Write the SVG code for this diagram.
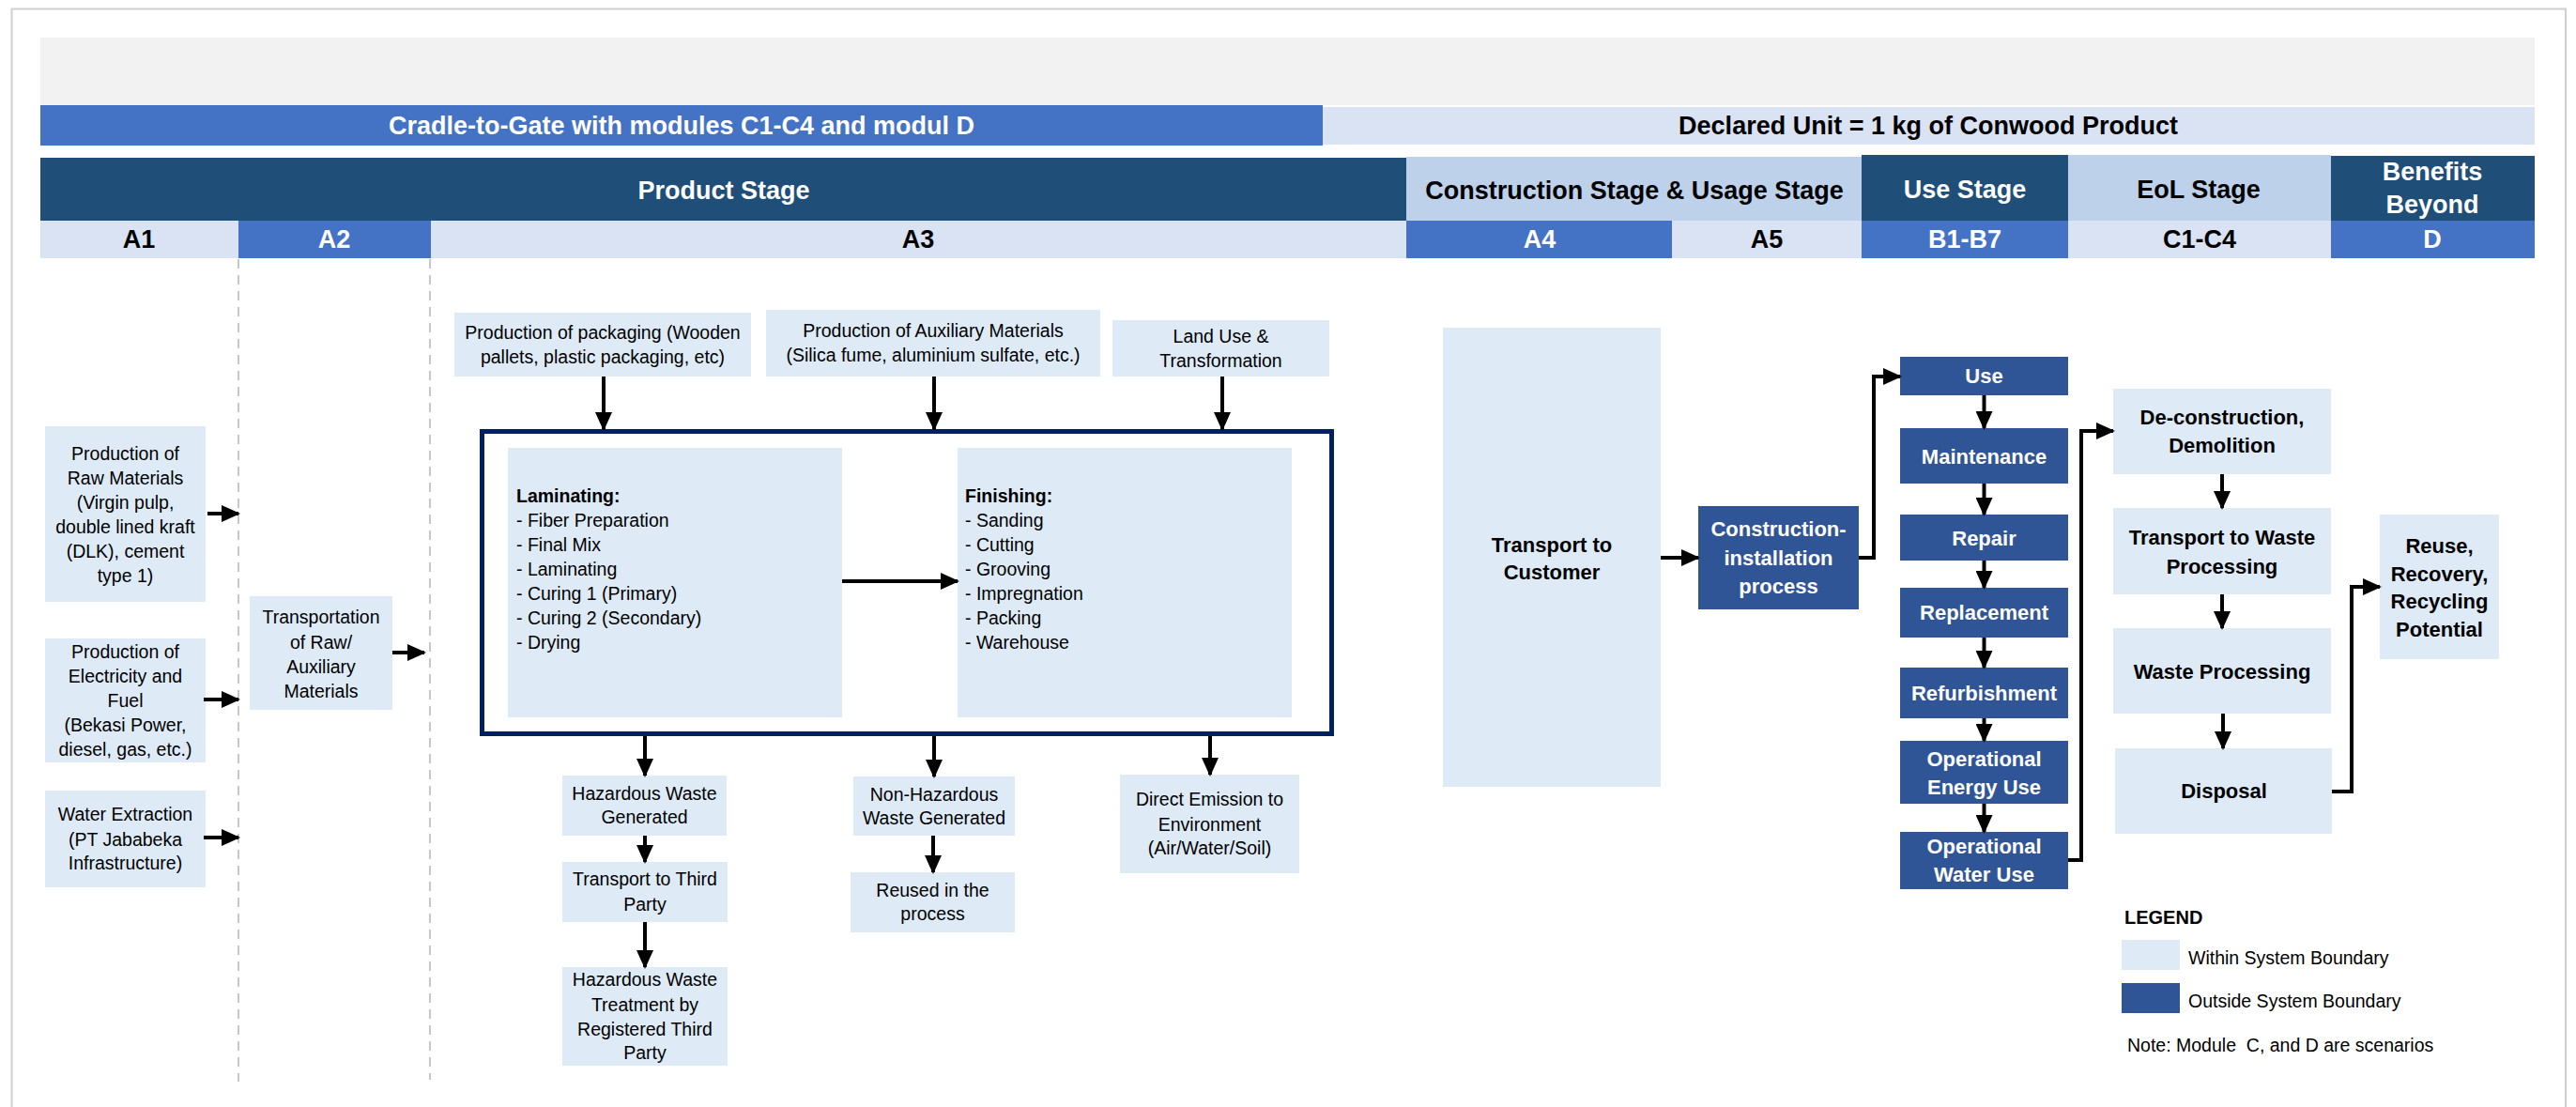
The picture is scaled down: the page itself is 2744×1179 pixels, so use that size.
<svg xmlns="http://www.w3.org/2000/svg" width="2744" height="1179" viewBox="0 0 2744 1179">
<style>
text{font-family:"Liberation Sans",Arial,sans-serif;}
.h{font-size:27px;font-weight:bold;text-anchor:middle;}
.w{fill:#FFFFFF;}
.k{fill:#000000;}
.t{font-size:19.5px;text-anchor:middle;fill:#000;}
.tl{font-size:19.5px;fill:#000;}
.b{font-size:22px;font-weight:bold;text-anchor:middle;}
.lt{fill:#DEEBF7;}
.dk{fill:#2F5597;}
.c{fill:none;stroke:#000;stroke-width:4;marker-end:url(#ah);}
.dash{stroke:#C8C8C8;stroke-width:2;stroke-dasharray:10 7;fill:none;}
</style>
<defs>
<marker id="ah" markerWidth="20" markerHeight="18" refX="18" refY="9" orient="auto" markerUnits="userSpaceOnUse">
<path d="M0,0 L20,9 L0,18 Z" fill="#000"/>
</marker>
</defs>
<rect x="0" y="0" width="2744" height="1179" fill="#FFFFFF"/>
<path d="M12.5,1185 V9.5 H2733 V1185" fill="none" stroke="#D0D0D0" stroke-width="2"/>

<g id="header">
<rect x="43" y="40" width="2657" height="72" fill="#F2F2F2"/>
<rect x="43" y="112" width="1366" height="43" fill="#4472C4"/>
<text class="h w" x="726" y="143" font-size="28">Cradle-to-Gate with modules C1-C4 and modul D</text>
<rect x="1409" y="114" width="1291" height="40" fill="#DAE3F3"/>
<text class="h k" x="2054" y="143">Declared Unit = 1 kg of Conwood Product</text>
<rect x="43" y="168" width="1455" height="67" fill="#1F4E79"/>
<text class="h w" x="771" y="212">Product Stage</text>
<rect x="1498" y="167" width="485" height="68" fill="#BDD1EA"/>
<text class="h k" x="1741" y="212">Construction Stage &amp; Usage Stage</text>
<rect x="1983" y="165" width="220" height="70" fill="#1F4E79"/>
<text class="h w" x="2093" y="211">Use Stage</text>
<rect x="2203" y="165" width="280" height="70" fill="#BDD1EA"/>
<text class="h k" x="2342" y="211">EoL Stage</text>
<rect x="2483" y="166" width="217" height="69" fill="#1F4E79"/>
<text class="h w" x="2591" y="192">Benefits</text>
<text class="h w" x="2591" y="227">Beyond</text>
<rect x="43" y="235" width="211" height="40" fill="#DAE3F3"/>
<text class="h k" x="148" y="264">A1</text>
<rect x="254" y="235" width="205" height="40" fill="#4472C4"/>
<text class="h w" x="356" y="264">A2</text>
<rect x="459" y="235" width="1039" height="40" fill="#DAE3F3"/>
<text class="h k" x="978" y="264">A3</text>
<rect x="1498" y="235" width="283" height="40" fill="#4472C4"/>
<text class="h w" x="1640" y="264">A4</text>
<rect x="1781" y="235" width="202" height="40" fill="#DAE3F3"/>
<text class="h k" x="1882" y="264">A5</text>
<rect x="1983" y="235" width="220" height="40" fill="#4472C4"/>
<text class="h w" x="2093" y="264">B1-B7</text>
<rect x="2203" y="235" width="280" height="40" fill="#DAE3F3"/>
<text class="h k" x="2343" y="264">C1-C4</text>
<rect x="2483" y="235" width="217" height="40" fill="#4472C4"/>
<text class="h w" x="2591" y="264">D</text>
</g>

<g id="boundaries">
<line class="dash" x1="254" y1="276" x2="254" y2="1152"/>
<line class="dash" x1="458" y1="276" x2="458" y2="1150"/>
</g>

<g id="n_raw"><rect class="lt" x="48" y="454" width="171" height="187"/>
<text class="t" x="133.5" y="490">Production of</text><text class="t" x="133.5" y="516">Raw Materials</text><text class="t" x="133.5" y="542">(Virgin pulp,</text><text class="t" x="133.5" y="568">double lined kraft</text><text class="t" x="133.5" y="594">(DLK), cement</text><text class="t" x="133.5" y="620">type 1)</text></g>
<g id="n_elec"><rect class="lt" x="48" y="680" width="171" height="132"/>
<text class="t" x="133.5" y="701">Production of</text><text class="t" x="133.5" y="727">Electricity and</text><text class="t" x="133.5" y="753">Fuel</text><text class="t" x="133.5" y="779">(Bekasi Power,</text><text class="t" x="133.5" y="805">diesel, gas, etc.)</text></g>
<g id="n_water"><rect class="lt" x="48" y="842" width="171" height="103"/>
<text class="t" x="133.5" y="874">Water Extraction</text><text class="t" x="133.5" y="901">(PT Jababeka</text><text class="t" x="133.5" y="926">Infrastructure)</text></g>
<g id="n_transport"><rect class="lt" x="266" y="635" width="152" height="121"/>
<text class="t" x="342" y="664">Transportation</text><text class="t" x="342" y="691">of Raw/</text><text class="t" x="342" y="717">Auxiliary</text><text class="t" x="342" y="743">Materials</text></g>

<g id="n_pack"><rect class="lt" x="484" y="333" width="316" height="68"/>
<text class="t" x="642" y="361">Production of packaging (Wooden</text><text class="t" x="642" y="387">pallets, plastic packaging, etc)</text></g>
<g id="n_aux"><rect class="lt" x="816" y="330" width="356" height="71"/>
<text class="t" x="994" y="359">Production of Auxiliary Materials</text><text class="t" x="994" y="385">(Silica fume, aluminium sulfate, etc.)</text></g>
<g id="n_land"><rect class="lt" x="1185" y="341" width="231" height="60"/>
<text class="t" x="1300.5" y="365">Land Use &amp;</text><text class="t" x="1300.5" y="391">Transformation</text></g>

<g id="n_process"><rect x="513.5" y="459.5" width="905" height="322" fill="#FFFFFF" stroke="#002060" stroke-width="5"/></g>
<g id="n_lam"><rect class="lt" x="541" y="477" width="356" height="287"/>
<text class="tl" x="550" y="535" font-weight="bold">Laminating:</text>
<text class="tl" x="550" y="561">- Fiber Preparation</text><text class="tl" x="550" y="587">- Final Mix</text><text class="tl" x="550" y="613">- Laminating</text><text class="tl" x="550" y="639">- Curing 1 (Primary)</text><text class="tl" x="550" y="665">- Curing 2 (Secondary)</text><text class="tl" x="550" y="691">- Drying</text></g>
<g id="n_fin"><rect class="lt" x="1020" y="477" width="356" height="287"/>
<text class="tl" x="1028" y="535" font-weight="bold">Finishing:</text>
<text class="tl" x="1028" y="561">- Sanding</text><text class="tl" x="1028" y="587">- Cutting</text><text class="tl" x="1028" y="613">- Grooving</text><text class="tl" x="1028" y="639">- Impregnation</text><text class="tl" x="1028" y="665">- Packing</text><text class="tl" x="1028" y="691">- Warehouse</text></g>

<g id="n_hw"><rect class="lt" x="599" y="826" width="175" height="64"/>
<text class="t" x="686.5" y="852">Hazardous Waste</text><text class="t" x="686.5" y="877">Generated</text></g>
<g id="n_tp"><rect class="lt" x="599" y="918" width="176" height="64"/>
<text class="t" x="687" y="943">Transport to Third</text><text class="t" x="687" y="970">Party</text></g>
<g id="n_hwt"><rect class="lt" x="599" y="1030" width="176" height="105"/>
<text class="t" x="687" y="1050">Hazardous Waste</text><text class="t" x="687" y="1077">Treatment by</text><text class="t" x="687" y="1103">Registered Third</text><text class="t" x="687" y="1128">Party</text></g>
<g id="n_nh"><rect class="lt" x="909" y="827" width="172" height="63"/>
<text class="t" x="995" y="853">Non-Hazardous</text><text class="t" x="995" y="878">Waste Generated</text></g>
<g id="n_reused"><rect class="lt" x="906" y="929" width="175" height="64"/>
<text class="t" x="993.5" y="955">Reused in the</text><text class="t" x="993.5" y="980">process</text></g>
<g id="n_de"><rect class="lt" x="1193" y="825" width="191" height="105"/>
<text class="t" x="1288.5" y="858">Direct Emission to</text><text class="t" x="1288.5" y="885">Environment</text><text class="t" x="1288.5" y="910">(Air/Water/Soil)</text></g>

<g id="n_ttc"><rect class="lt" x="1537" y="349" width="232" height="489"/>
<text class="b k" x="1653" y="588">Transport to</text><text class="b k" x="1653" y="617">Customer</text></g>
<g id="n_ci"><rect class="dk" x="1809" y="539" width="171" height="110"/>
<text class="b w" x="1894.5" y="571">Construction-</text><text class="b w" x="1894.5" y="602">installation</text><text class="b w" x="1894.5" y="632">process</text></g>

<g id="n_use"><rect class="dk" x="2024" y="380" width="179" height="41"/><text class="b w" x="2113.5" y="408">Use</text></g>
<g id="n_maint"><rect class="dk" x="2024" y="456" width="179" height="59"/><text class="b w" x="2113.5" y="494">Maintenance</text></g>
<g id="n_repair"><rect class="dk" x="2024" y="548" width="179" height="49"/><text class="b w" x="2113.5" y="581">Repair</text></g>
<g id="n_repl"><rect class="dk" x="2024" y="626" width="179" height="53"/><text class="b w" x="2113.5" y="660">Replacement</text></g>
<g id="n_refurb"><rect class="dk" x="2024" y="711" width="179" height="54"/><text class="b w" x="2113.5" y="746">Refurbishment</text></g>
<g id="n_ope"><rect class="dk" x="2024" y="789" width="179" height="67"/><text class="b w" x="2113.5" y="816">Operational</text><text class="b w" x="2113.5" y="846">Energy Use</text></g>
<g id="n_opw"><rect class="dk" x="2024" y="886" width="179" height="61"/><text class="b w" x="2113.5" y="909">Operational</text><text class="b w" x="2113.5" y="939">Water Use</text></g>

<g id="n_decon"><rect class="lt" x="2251" y="414" width="232" height="91"/><text class="b k" x="2367" y="452">De-construction,</text><text class="b k" x="2367" y="482">Demolition</text></g>
<g id="n_twp"><rect class="lt" x="2251" y="541" width="232" height="92"/><text class="b k" x="2367" y="580">Transport to Waste</text><text class="b k" x="2367" y="611">Processing</text></g>
<g id="n_wp"><rect class="lt" x="2251" y="669" width="232" height="91"/><text class="b k" x="2367" y="723">Waste Processing</text></g>
<g id="n_disp"><rect class="lt" x="2253" y="797" width="231" height="91"/><text class="b k" x="2369" y="850">Disposal</text></g>
<g id="n_reuse"><rect class="lt" x="2535" y="548" width="127" height="154"/><text class="b k" x="2598.5" y="589">Reuse,</text><text class="b k" x="2598.5" y="619">Recovery,</text><text class="b k" x="2598.5" y="648">Recycling</text><text class="b k" x="2598.5" y="678">Potential</text></g>

<g id="connectors">
<path class="c" d="M221,547 H254"/>
<path class="c" d="M217,745 H254"/>
<path class="c" d="M217,892 H254"/>
<path class="c" d="M418,695 H452"/>
<path class="c" d="M643,401 V457"/>
<path class="c" d="M995,401 V457"/>
<path class="c" d="M1302,401 V457"/>
<path class="c" d="M897,619 H1020"/>
<path class="c" d="M687,784 V826"/>
<path class="c" d="M995,784 V827"/>
<path class="c" d="M1289,784 V825"/>
<path class="c" d="M687,890 V918"/>
<path class="c" d="M687,982 V1030"/>
<path class="c" d="M994,890 V929"/>
<path class="c" d="M1769,594 H1809"/>
<path class="c" d="M1980,594 H1996 V401 H2024"/>
<path class="c" d="M2113.5,421 V456"/>
<path class="c" d="M2113.5,515 V548"/>
<path class="c" d="M2113.5,597 V626"/>
<path class="c" d="M2113.5,679 V711"/>
<path class="c" d="M2113.5,765 V789"/>
<path class="c" d="M2113.5,856 V886"/>
<path class="c" d="M2203,916 H2217 V459 H2251"/>
<path class="c" d="M2367,505 V541"/>
<path class="c" d="M2367,633 V669"/>
<path class="c" d="M2368,760 V797"/>
<path class="c" d="M2484,843 H2505 V625 H2535"/>
</g>

<g id="legend">
<text x="2263" y="984" font-size="20" font-weight="bold">LEGEND</text>
<rect class="lt" x="2260" y="1001" width="62" height="32"/>
<text class="tl" x="2331" y="1027">Within System Boundary</text>
<rect class="dk" x="2260" y="1047" width="62" height="32"/>
<text class="tl" x="2331" y="1073">Outside System Boundary</text>
<text class="tl" x="2266" y="1120" xml:space="preserve">Note: Module  C, and D are scenarios</text>
</g>
</svg>
